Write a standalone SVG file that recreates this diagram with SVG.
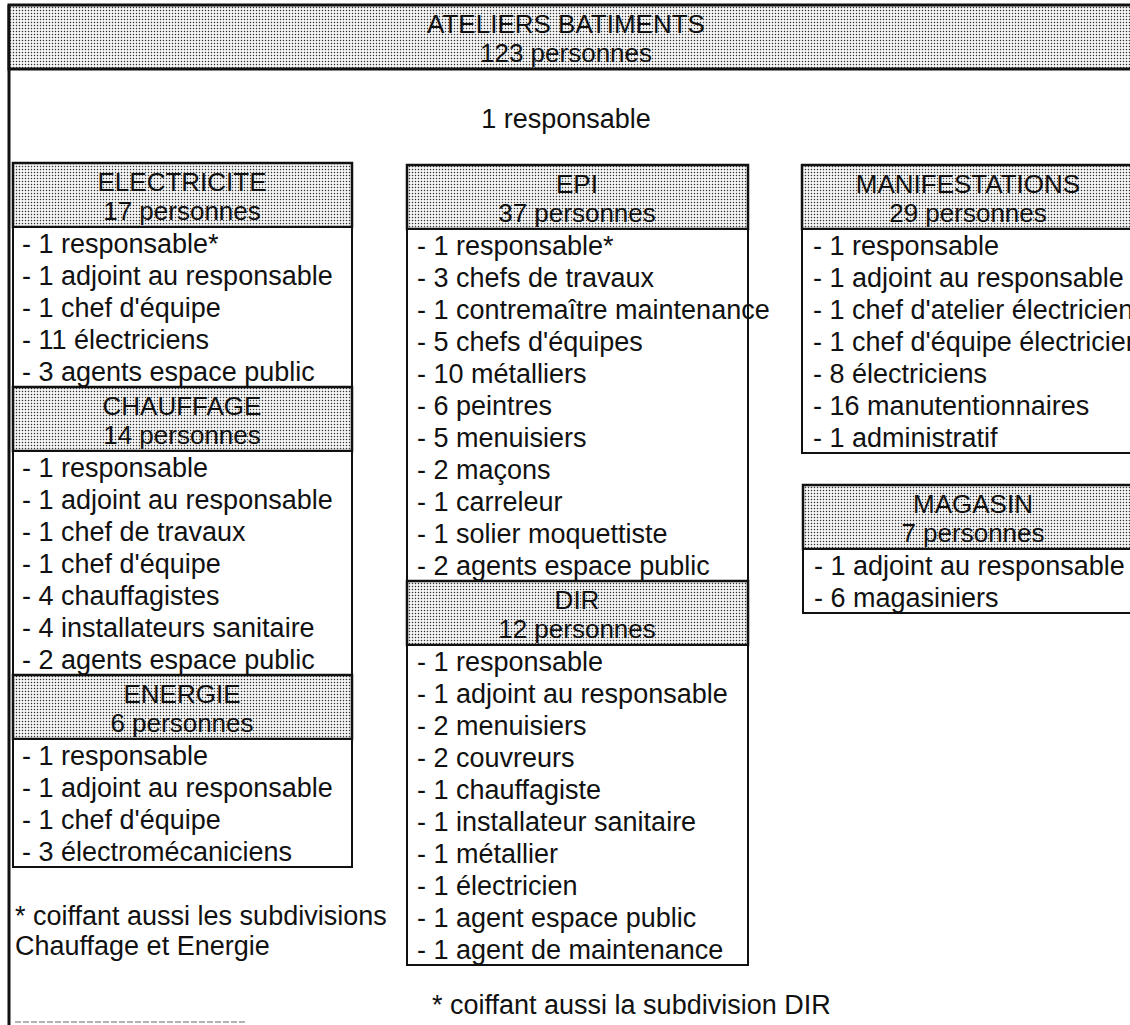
<svg xmlns="http://www.w3.org/2000/svg" width="1130" height="1025" viewBox="0 0 1130 1025">
<defs>
<pattern id="dots" x="0" y="0" width="3" height="3" patternUnits="userSpaceOnUse">
<rect width="3" height="3" fill="#ffffff"/>
<rect x="0.8" y="0.8" width="1.4" height="1.4" fill="#333333"/>
</pattern>
</defs>
<style>
.t{font-family:"Liberation Sans",Arial,sans-serif;font-size:27px;fill:#111}
.h{font-family:"Liberation Sans",Arial,sans-serif;font-size:26px;fill:#111;text-anchor:middle}
.box{fill:#fff;stroke:#111;stroke-width:2}
.hdr{fill:url(#dots);stroke:#111;stroke-width:2.5}
.frame{stroke:#111;stroke-width:3;fill:none}
</style>
<rect width="1130" height="1025" fill="#fff"/>

<g id="ateliers">
<line class="frame" x1="9" y1="5" x2="9" y2="1025"/>
<rect class="hdr" x="9" y="5" width="1135" height="64" style="stroke-width:3"/>
<text class="h" x="566" y="33">ATELIERS BATIMENTS</text>
<text class="h" x="566" y="62">123 personnes</text>
<text class="h" x="566" y="128" style="font-size:27px">1 responsable</text>
</g>

<g id="electricite">
<rect class="hdr" x="13" y="163" width="339" height="64"/>
<text class="h" x="182" y="191">ELECTRICITE</text>
<text class="h" x="182" y="220">17 personnes</text>
<rect class="box" x="13" y="227" width="339" height="160"/>
<text class="t" x="22" y="253">- 1 responsable*</text>
<text class="t" x="22" y="285">- 1 adjoint au responsable</text>
<text class="t" x="22" y="317">- 1 chef d'équipe</text>
<text class="t" x="22" y="349">- 11 électriciens</text>
<text class="t" x="22" y="381">- 3 agents espace public</text>
</g>

<g id="chauffage">
<rect class="hdr" x="13" y="387" width="339" height="64"/>
<text class="h" x="182" y="415">CHAUFFAGE</text>
<text class="h" x="182" y="444">14 personnes</text>
<rect class="box" x="13" y="451" width="339" height="224"/>
<text class="t" x="22" y="477">- 1 responsable</text>
<text class="t" x="22" y="509">- 1 adjoint au responsable</text>
<text class="t" x="22" y="541">- 1 chef de travaux</text>
<text class="t" x="22" y="573">- 1 chef d'équipe</text>
<text class="t" x="22" y="605">- 4 chauffagistes</text>
<text class="t" x="22" y="637">- 4 installateurs sanitaire</text>
<text class="t" x="22" y="669">- 2 agents espace public</text>
</g>

<g id="energie">
<rect class="hdr" x="13" y="675" width="339" height="64"/>
<text class="h" x="182" y="703">ENERGIE</text>
<text class="h" x="182" y="732">6 personnes</text>
<rect class="box" x="13" y="739" width="339" height="128"/>
<text class="t" x="22" y="765">- 1 responsable</text>
<text class="t" x="22" y="797">- 1 adjoint au responsable</text>
<text class="t" x="22" y="829">- 1 chef d'équipe</text>
<text class="t" x="22" y="861">- 3 électromécaniciens</text>
</g>

<g id="note-left">
<text class="t" x="15" y="925">* coiffant aussi les subdivisions</text>
<text class="t" x="15" y="955">Chauffage et  Energie</text>
</g>

<g id="epi">
<rect class="hdr" x="407" y="165" width="341" height="64"/>
<text class="h" x="577" y="193">EPI</text>
<text class="h" x="577" y="222">37 personnes</text>
<rect class="box" x="407" y="229" width="341" height="352"/>
<text class="t" x="417" y="255">- 1 responsable*</text>
<text class="t" x="417" y="287">- 3 chefs de travaux</text>
<text class="t" x="417" y="319">- 1 contremaître maintenance</text>
<text class="t" x="417" y="351">- 5 chefs d'équipes</text>
<text class="t" x="417" y="383">- 10 métalliers</text>
<text class="t" x="417" y="415">- 6 peintres</text>
<text class="t" x="417" y="447">- 5 menuisiers</text>
<text class="t" x="417" y="479">- 2 maçons</text>
<text class="t" x="417" y="511">- 1 carreleur</text>
<text class="t" x="417" y="543">- 1 solier moquettiste</text>
<text class="t" x="417" y="575">- 2 agents espace public</text>
</g>

<g id="dir">
<rect class="hdr" x="407" y="581" width="341" height="64"/>
<text class="h" x="577" y="609">DIR</text>
<text class="h" x="577" y="638">12 personnes</text>
<rect class="box" x="407" y="645" width="341" height="320"/>
<text class="t" x="417" y="671">- 1 responsable</text>
<text class="t" x="417" y="703">- 1 adjoint au responsable</text>
<text class="t" x="417" y="735">- 2 menuisiers</text>
<text class="t" x="417" y="767">- 2 couvreurs</text>
<text class="t" x="417" y="799">- 1 chauffagiste</text>
<text class="t" x="417" y="831">- 1 installateur sanitaire</text>
<text class="t" x="417" y="863">- 1 métallier</text>
<text class="t" x="417" y="895">- 1 électricien</text>
<text class="t" x="417" y="927">- 1 agent espace public</text>
<text class="t" x="417" y="959">- 1 agent de maintenance</text>
</g>

<g id="note-middle">
<text class="t" x="432" y="1014">* coiffant aussi la subdivision DIR</text>
</g>

<g id="manifestations">
<rect class="hdr" x="802" y="165" width="340" height="64"/>
<text class="h" x="968" y="193">MANIFESTATIONS</text>
<text class="h" x="968" y="222">29 personnes</text>
<rect class="box" x="802" y="229" width="340" height="224"/>
<text class="t" x="813" y="255">- 1 responsable</text>
<text class="t" x="813" y="287">- 1 adjoint au responsable</text>
<text class="t" x="813" y="319">- 1 chef d'atelier électricien</text>
<text class="t" x="813" y="351">- 1 chef d'équipe électricien</text>
<text class="t" x="813" y="383">- 8 électriciens</text>
<text class="t" x="813" y="415">- 16 manutentionnaires</text>
<text class="t" x="813" y="447">- 1 administratif</text>
</g>

<g id="magasin">
<rect class="hdr" x="803" y="485" width="340" height="64"/>
<text class="h" x="973" y="513">MAGASIN</text>
<text class="h" x="973" y="542">7 personnes</text>
<rect class="box" x="803" y="549" width="340" height="64"/>
<text class="t" x="814" y="575">- 1 adjoint au responsable</text>
<text class="t" x="814" y="607">- 6 magasiniers</text>
</g>

<g id="connectors"></g>

<line x1="15" y1="1022" x2="245" y2="1022" stroke="#9a9a9a" stroke-width="1.5" stroke-dasharray="6 2"/>
</svg>
